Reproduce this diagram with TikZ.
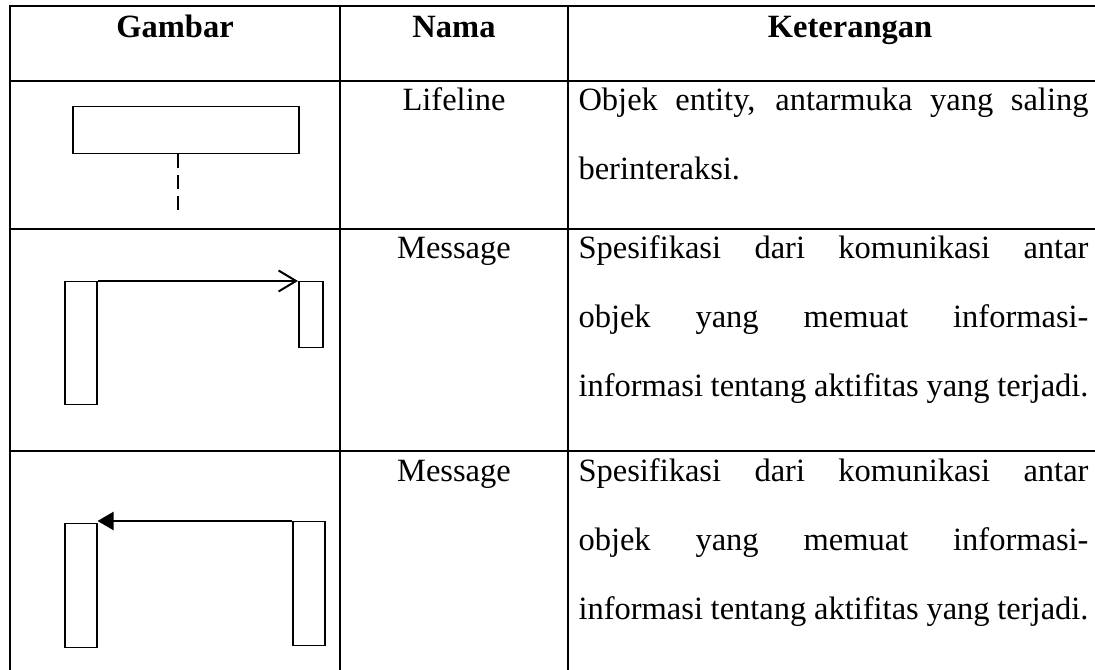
\documentclass[tikz,border=0pt]{standalone}
\usepackage{fontspec}
\setmainfont{Liberation Serif}
\usetikzlibrary{arrows.meta,positioning}

\tikzset{
  tabline/.style={line width=0.8pt},
  actbox/.style={draw, line width=0.6pt, inner sep=0pt, anchor=north west},
  msg/.style={line width=0.8pt},
  cell/.style={anchor=base, inner sep=0pt, font=\fontsize{13pt}{27.6pt}\selectfont},
  desc/.style={anchor=base west, inner sep=0pt, align=left, font=\fontsize{13pt}{27.6pt}\selectfont}
}

\begin{document}
\begin{tikzpicture}[x=0.4pt,y=-0.4pt]
      \useasboundingbox (0,0) rectangle (1095,670);
      \clip (0,0) rectangle (1095,670);

      % table lines
      \draw[tabline] (10,6) rectangle (1110,690);
      \draw[tabline] (10,81) -- (1110,81);
      \draw[tabline] (10,229) -- (1110,229);
      \draw[tabline] (10,451) -- (1110,451);
      \draw[tabline] (340,6) -- (340,690);
      \draw[tabline] (568,6) -- (568,690);

      % header
      \node[cell] (hGambar) at (175,38) {\bfseries Gambar};
      \node[cell] (hNama) at (454,38) {\bfseries Nama};
      \node[cell] (hKet) at (850,38) {\bfseries Keterangan};

      % lifeline
      \node[actbox, minimum width=90.4pt, minimum height=18.8pt] (life) at (72,106) {};
      \coordinate (lifeEnd) at (178,213);
      \draw[line width=0.6pt, dash pattern=on 5.6pt off 2.8pt] (life.south -| lifeEnd) -- (lifeEnd);

      % message (open arrow)
      \node[actbox, minimum width=12.8pt, minimum height=49.2pt] (srcA) at (64,281) {};
      \node[actbox, minimum width=9.6pt, minimum height=26.4pt] (dstA) at (298,281) {};
      \draw[msg, -{Straight Barb[length=7pt,width=8.4pt]}] (srcA.north east) -- (dstA.north west);

      % message (filled arrow)
      \node[actbox, minimum width=12.8pt, minimum height=49.6pt] (dstB) at (64,523) {};
      \node[actbox, minimum width=12.8pt, minimum height=49.6pt] (srcB) at (292,521) {};
      \draw[msg, -{Triangle[length=6.4pt,width=7.2pt]}] (srcB.north west) -- (srcB.north west -| dstB.north east);

      % nama
      \node[cell] (nLife) at (454,111) {Lifeline};
      \node[cell] (nMsgA) at (454,259) {Message};
      \node[cell] (nMsgB) at (454,482) {Message};

      % keterangan (base = last line)
      \node[desc] (kLife) at (578,180) {\makebox[204pt][s]{Objek entity, antarmuka yang saling}\\berinteraksi.};
      \node[desc] (kMsgA) at (578,397) {\makebox[204pt][s]{Spesifikasi dari komunikasi antar}\\
        \makebox[204pt][s]{objek yang memuat informasi-}\\
        \makebox[204pt][s]{informasi tentang aktifitas yang terjadi.}};
      \node[desc] (kMsgB) at (578,620) {\makebox[204pt][s]{Spesifikasi dari komunikasi antar}\\
        \makebox[204pt][s]{objek yang memuat informasi-}\\
        \makebox[204pt][s]{informasi tentang aktifitas yang terjadi.}};
\end{tikzpicture}
\end{document}
